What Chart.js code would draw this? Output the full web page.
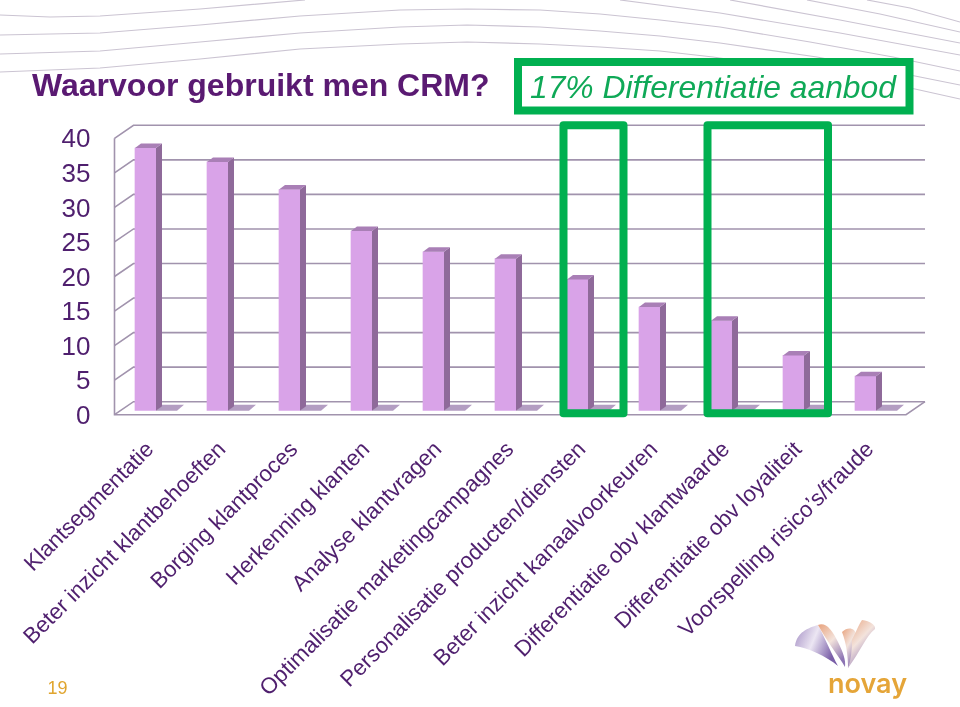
<!DOCTYPE html>
<html>
<head>
<meta charset="utf-8">
<title>Waarvoor gebruikt men CRM?</title>
<script src="https://cdn.jsdelivr.net/npm/chart.js@4/dist/chart.umd.min.js"></script>
<style>
html, body { margin: 0; padding: 0; background: #fff; }
#wrap { position: relative; width: 960px; height: 707px; overflow: hidden; }
#deco { position: absolute; left: 0; top: 0; }
#chart { position: absolute; left: 0; top: 0; }
</style>
</head>
<body>
<div id="wrap">
<svg id="deco" width="960" height="707" viewBox="0 0 960 707" fill="none">
  <defs>
    <linearGradient id="wing" x1="0" y1="0" x2="1" y2="0.4">
      <stop offset="0" stop-color="#a48fc4"/>
      <stop offset="0.5" stop-color="#ece6f3"/>
      <stop offset="1" stop-color="#7a5fa8"/>
    </linearGradient>
    <linearGradient id="petal" x1="0" y1="0" x2="0.6" y2="1">
      <stop offset="0" stop-color="#e8a27c"/>
      <stop offset="0.5" stop-color="#f3e3dc"/>
      <stop offset="1" stop-color="#8c74b4"/>
    </linearGradient>
  </defs>
  <g stroke="#cbc4d2" stroke-width="1.2" stroke-linejoin="round">
    <polyline points="0,15 50,17 100,16 200,9 305,0"/>
    <polyline points="0,35 100,33 200,25 300,16 400,10 467,9 540,10 600,14 660,20 720,27 810,42 893,57 960,71"/>
    <polyline points="0,54 100,51 200,42 300,33 400,27 467,25 540,27 600,31 660,36 720,43 817,57 915,76 960,85"/>
    <polyline points="0,72 100,68 200,59 300,49 400,44 467,42 540,44 600,47 660,51 713,57 815,72 915,89 960,99"/>
    <polyline points="620,0 720,13 840,33 960,55"/>
    <polyline points="730,0 840,20 960,43"/>
    <polyline points="807,0 880,14 960,32"/>
    <polyline points="867,0 910,8 960,22"/>
  </g>
  <path fill="url(#wing)" d="M795 646 C797 632 808 628 818 625 C826 640 832 655 838 666 C826 656 808 648 795 646Z"/>
  <path fill="url(#petal)" d="M818 625 C826 622 832 630 838 642 C843 652 846 660 845 667 C838 655 826 640 818 625Z"/>
  <path fill="url(#petal)" d="M842 632 C848 626 855 628 856 634 C856 648 852 660 848 668 C848 656 846 642 842 632Z"/>
  <path fill="url(#petal)" d="M852 640 C856 632 859 624 862 620 C870 621 876 625 875 629 C866 636 860 652 848 668 C851 660 852 650 852 640Z"/>
</svg>
<canvas id="chart" width="960" height="707"></canvas>
</div>
<script>
// values
const categories = [
    'Klantsegmentatie',
    'Beter inzicht klantbehoeften',
    'Borging klantproces',
    'Herkenning klanten',
    'Analyse klantvragen',
    'Optimalisatie marketingcampagnes',
    'Personalisatie producten/diensten',
    'Beter inzicht kanaalvoorkeuren',
    'Differentiatie obv klantwaarde',
    'Differentiatie obv loyaliteit',
    'Voorspelling risico\u2019s/fraude'
]
const scores = [38, 36, 32, 26, 23, 22, 19, 15, 13, 8, 5]
const yTicks = [0, 5, 10, 15, 20, 25, 30, 35, 40]
const highlighted = [[6, 6], [8, 9]]

const titleText = 'Waarvoor gebruikt men CRM?'
const calloutText = '17% Differentiatie aanbod'
const pageNumber = '19'
const logoText = 'novay'

const PURPLE = '#5a1a72'
const LABEL_PURPLE = '#4f1f6e'
const GREEN = '#00b050'
const GRID = '#a193ad'
const FONT = '"Liberation Sans", Arial, sans-serif'

// fake depth of the 3D look
const wallDx = 19, wallDy = 13
const barLift = 4, barDx = 6, barDy = 4.5

function polygon(ctx, pts, fill) {
    ctx.beginPath()
    pts.forEach((p, i) => i ? ctx.lineTo(p[0], p[1]) : ctx.moveTo(p[0], p[1]))
    ctx.closePath()
    ctx.fillStyle = fill
    ctx.fill()
}

const wallsPlugin = {
    id: 'walls',
    beforeDatasetsDraw(chart) {
        const { ctx, scales: { y }, chartArea: area } = chart
        const left = area.left + 5, right = area.right + 4.5
        const y0 = y.getPixelForValue(0), yTop = y.getPixelForValue(40)
        ctx.save()
        ctx.strokeStyle = GRID
        ctx.lineWidth = 1.6
        yTicks.forEach(v => {
            const py = y.getPixelForValue(v)
            ctx.beginPath()
            ctx.moveTo(left, py)
            ctx.lineTo(left + wallDx, py - wallDy)
            ctx.lineTo(right + wallDx, py - wallDy)
            ctx.stroke()
        })
        ctx.beginPath()
        ctx.moveTo(left, yTop)
        ctx.lineTo(left, y0)
        ctx.lineTo(right, y0)
        ctx.lineTo(right + wallDx, y0 - wallDy)
        ctx.stroke()
        ctx.restore()

        // floor shadows, then lift the bars off the front edge
        ctx.save()
        ctx.translate(0, -barLift)
        chart.getDatasetMeta(0).data.forEach(bar => {
            const r = bar.x + bar.width / 2
            polygon(ctx, [[r, bar.base], [r + 21, bar.base], [r + 28, bar.base - 6], [r + 6, bar.base - 6]], '#b39dc2')
        })
        ctx.restore()
        ctx.save()
        ctx.translate(0, -barLift)
    },
    afterDatasetsDraw(chart) {
        const { ctx } = chart
        chart.getDatasetMeta(0).data.forEach(bar => {
            const l = bar.x - bar.width / 2, r = bar.x + bar.width / 2
            polygon(ctx, [[r, bar.y], [r + barDx, bar.y - barDy], [r + barDx, bar.base - barDy], [r, bar.base]], '#8f6a9a')
            polygon(ctx, [[l, bar.y], [l + barDx, bar.y - barDy], [r + barDx, bar.y - barDy], [r, bar.y]], '#a97fb6')
        })
        ctx.restore()
    }
}

const overlayPlugin = {
    id: 'overlay',
    afterDraw(chart) {
        const { ctx, scales: { x, y } } = chart
        ctx.save()
        ctx.strokeStyle = GREEN
        ctx.lineWidth = 8
        ctx.lineJoin = 'round'
        const top = y.getPixelForValue(40) - wallDy, bottom = y.getPixelForValue(0) - 1.5
        highlighted.forEach(([a, b]) => {
            const l = x.getPixelForValue(a) - 14
            const r = x.getPixelForValue(b) + (a === b ? 46 : 34.5)
            ctx.strokeRect(l, top, r - l, bottom - top)
        })
        ctx.lineJoin = 'miter'
        ctx.fillStyle = '#fff'
        ctx.fillRect(518, 62, 391.5, 48.5)
        ctx.strokeRect(518, 62, 391.5, 48.5)

        ctx.fillStyle = '#0fa957'
        ctx.font = 'italic 31.8px ' + FONT
        ctx.textBaseline = 'alphabetic'
        ctx.textAlign = 'left'
        ctx.fillText(calloutText, 530, 98)

        ctx.fillStyle = '#e0a52f'
        ctx.font = '18px ' + FONT
        ctx.fillText(pageNumber, 47.5, 694)

        ctx.fillStyle = '#e5a538'
        ctx.font = '600 27px Inter, sans-serif'
        ctx.fillText(logoText, 828, 693)
        ctx.restore()
    }
}

new Chart(document.getElementById('chart'), {
    type: 'bar',
    data: {
        labels: categories,
        datasets: [{
            data: scores,
            backgroundColor: '#d9a3e8',
            borderWidth: 0,
            barThickness: 21
        }]
    },
    options: {
        responsive: false,
        animation: false,
        layout: { padding: { left: 32, right: 58.5, top: 0, bottom: 0 } },
        plugins: {
            legend: { display: false },
            tooltip: { enabled: false },
            title: {
                display: true,
                text: titleText,
                align: 'start',
                color: PURPLE,
                font: { family: FONT, size: 32, weight: 'bold', lineHeight: 1.2 },
                padding: { top: 68.2, bottom: 31.7 }
            }
        },
        scales: {
            x: {
                grid: { display: false, drawTicks: false },
                border: { display: false },
                ticks: {
                    autoSkip: false,
                    minRotation: 45,
                    maxRotation: 45,
                    padding: 22,
                    labelOffset: 5,
                    color: LABEL_PURPLE,
                    font: { family: FONT, size: 22.3 }
                },
                afterFit(scale) {
                    scale.height = 292.3
                    scale.paddingLeft = 0
                    scale.paddingRight = 0
                }
            },
            y: {
                min: 0,
                max: 40,
                grid: { display: false, drawTicks: false },
                border: { display: false },
                afterBuildTicks(scale) {
                    scale.ticks = yTicks.map(v => ({ value: v }))
                },
                ticks: {
                    padding: 19,
                    labelOffset: 2,
                    color: LABEL_PURPLE,
                    font: { family: FONT, size: 26 }
                },
                afterFit(scale) {
                    scale.width = 77.5
                    scale.paddingTop = 0
                    scale.paddingBottom = 0
                }
            }
        }
    },
    plugins: [wallsPlugin, overlayPlugin]
})
</script>
</body>
</html>
